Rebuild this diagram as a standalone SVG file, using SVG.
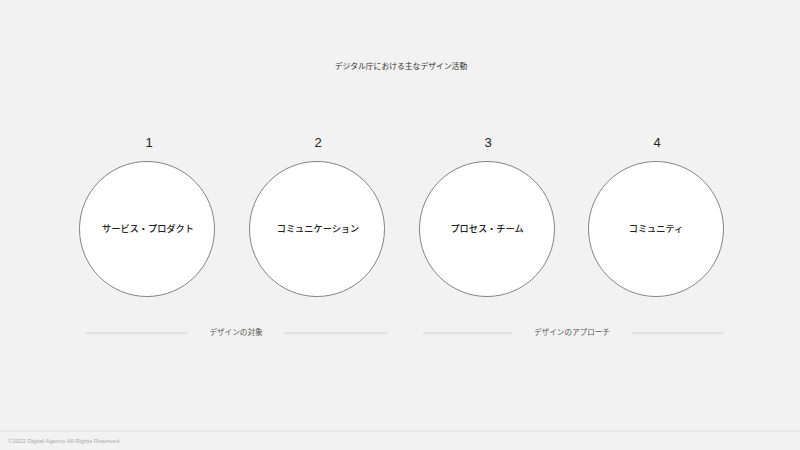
<svg xmlns="http://www.w3.org/2000/svg" width="800" height="450" viewBox="0 0 800 450">
<style>
  text { font-family: "Noto Sans CJK JP", "Noto Sans", sans-serif; fill: #333; }
  .title { font-size: 7.8px; text-anchor: middle; }
  .num { font-family: "Liberation Sans", Arial, sans-serif; font-size: 13px; text-anchor: middle; fill: #222; }
  .lbl { font-size: 9.2px; font-weight: 500; text-anchor: middle; fill: #222; }
  .grp { font-size: 7.6px; text-anchor: middle; fill: #555; }
  .foot { font-family: "Liberation Sans", Arial, sans-serif; font-size: 6px; fill: #aaa; }
  .node { fill: #fff; stroke: #666; stroke-width: 0.8; }
  .rule { stroke: #c8c8c8; stroke-width: 0.8; }
</style>
<rect width="800" height="450" fill="#f2f2f2"/>
<text class="title" x="401" y="69">デジタル庁における主なデザイン活動</text>
<g id="node1">
  <text class="num" x="149" y="147">1</text>
  <circle class="node" cx="147" cy="229" r="67.5"/>
  <text class="lbl" x="148" y="232">サービス・プロダクト</text>
</g>
<g id="node2">
  <text class="num" x="318" y="147">2</text>
  <circle class="node" cx="317" cy="229" r="67.5"/>
  <text class="lbl" x="318" y="232">コミュニケーション</text>
</g>
<g id="node3">
  <text class="num" x="488" y="147">3</text>
  <circle class="node" cx="487" cy="229" r="67.5"/>
  <text class="lbl" x="487" y="232">プロセス・チーム</text>
</g>
<g id="node4">
  <text class="num" x="657" y="147">4</text>
  <circle class="node" cx="656" cy="229" r="67.5"/>
  <text class="lbl" x="656" y="232">コミュニティ</text>
</g>
<g id="connectors">
  <line class="rule" x1="86" y1="333" x2="187" y2="333"/>
  <line class="rule" x1="284" y1="333" x2="387" y2="333"/>
  <line class="rule" x1="423" y1="333" x2="512" y2="333"/>
  <line class="rule" x1="632" y1="333" x2="723" y2="333"/>
</g>
<text class="grp" x="236" y="335">デザインの対象</text>
<text class="grp" x="572" y="335">デザインのアプローチ</text>
<line x1="0" y1="431" x2="800" y2="431" stroke="#dcdcdc" stroke-width="0.8"/>
<text class="foot" x="8" y="443">©2022 Digital Agency All Rights Reserved</text>
</svg>
